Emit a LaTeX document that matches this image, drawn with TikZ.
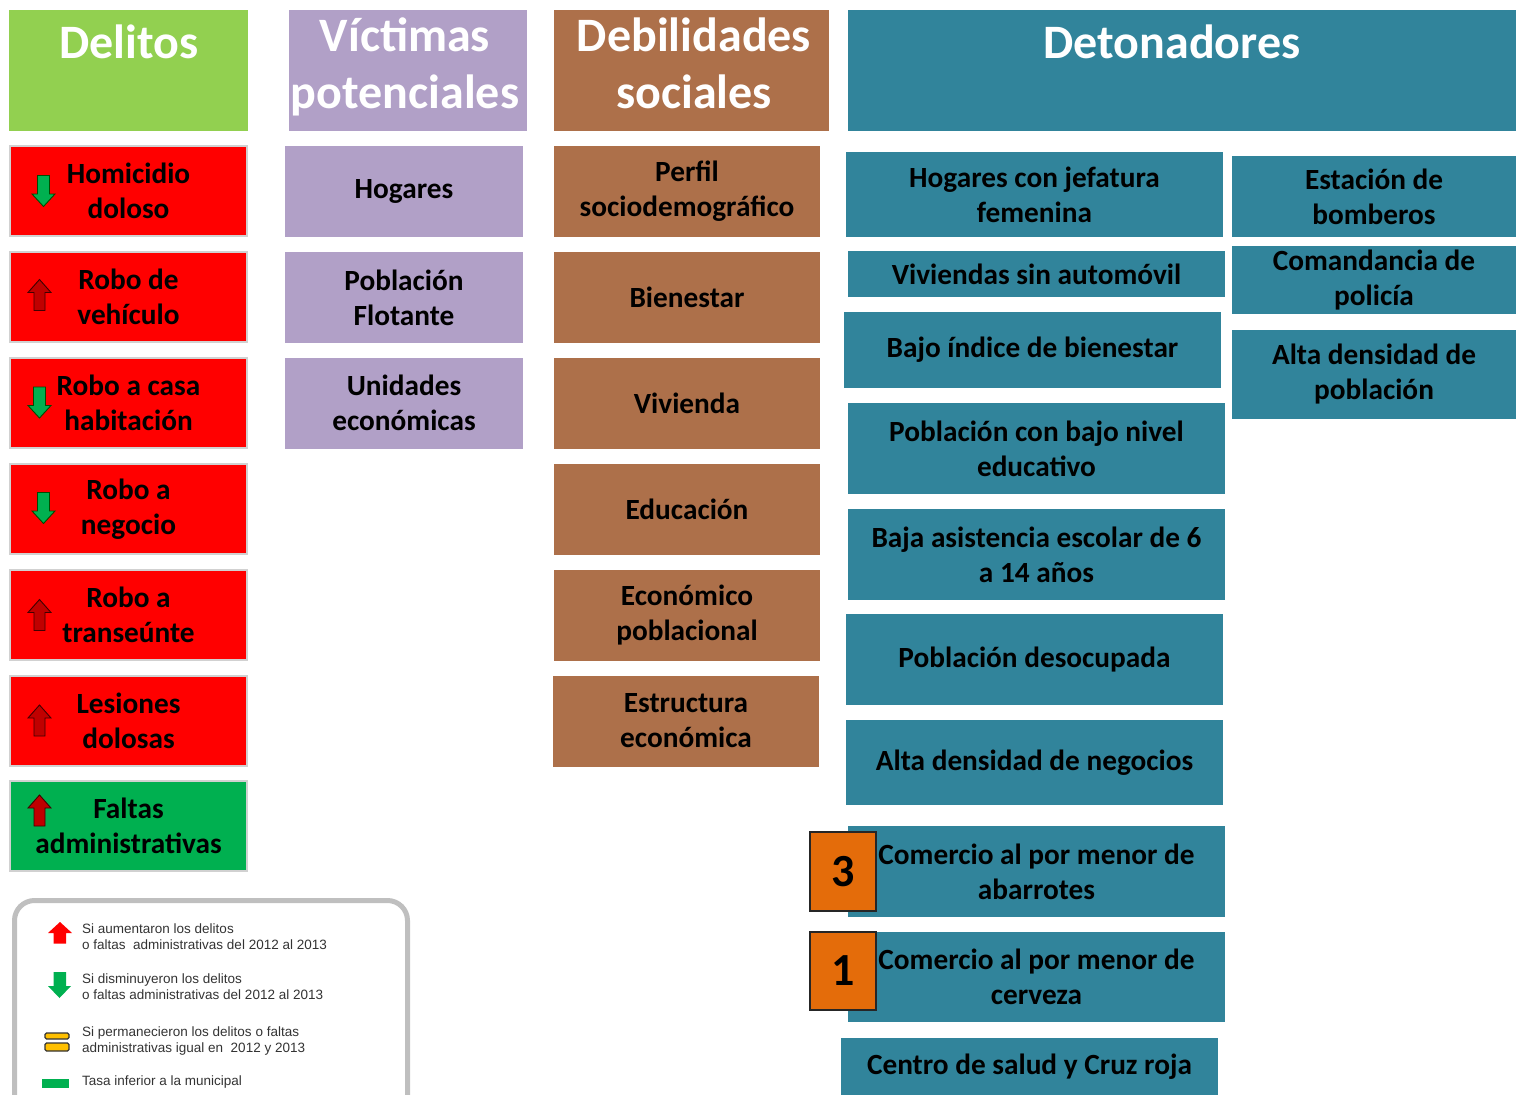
\documentclass[tikz,border=0pt]{standalone}
\usepackage{fontspec}
\setmainfont{Carlito}
\newfontfamily\leyendafont{Liberation Sans}
\definecolor{rojoDel}{HTML}{FF0000}
\definecolor{verdeDel}{HTML}{00B050}
\definecolor{verdeTit}{HTML}{92D050}
\definecolor{lila}{HTML}{B1A0C7}
\definecolor{cafe}{HTML}{AD704A}
\definecolor{azulDet}{HTML}{31849B}
\definecolor{naranja}{HTML}{E46C0A}
\definecolor{guinda}{HTML}{C00000}
\definecolor{oro}{HTML}{FFC000}
\definecolor{grisLey}{HTML}{BFBFBF}
\newcommand\cuerpo{\bfseries\fontsize{29.3}{35}\selectfont}
\newcommand\titulo{\bfseries\fontsize{48}{57}\selectfont}
\tikzset{
  caja/.style={rectangle, inner sep=0pt, align=center, font=\cuerpo},
  tam/.style 2 args={minimum width=#1, minimum height=#2},
  encabezado/.style={rectangle, inner sep=0pt},
  titulotxt/.style={inner sep=0pt, align=center, font=\titulo, text=white},
  delito/.style={caja, tam={237}{90}, draw=black!18, line width=1.2},
  victima/.style={caja, fill=lila, tam={238}{91}},
  debilidad/.style={caja, fill=cafe, tam={266}{91}},
  detonador/.style={caja, fill=azulDet, tam={377}{#1}},
  numero/.style={rectangle, inner sep=0pt, fill=naranja, draw=black!85, line width=2,
    tam={66}{#1}, font=\bfseries\fontsize{46}{50}\selectfont},
  leyendatxt/.style={inner sep=0pt, align=left, anchor=north west,
    font=\leyendafont\fontsize{13.5}{16}\selectfont, text=black!80},
  flecha sube/.pic={
    \draw[fill=guinda, draw=black!75!red, line width=0.9]
      (0,-15.5) -- (11.5,-2.5) -- (5.5,-2.5) -- (5.5,15.5) -- (-5.5,15.5)
      -- (-5.5,-2.5) -- (-11.5,-2.5) -- cycle;
  },
  flecha baja/.pic={
    \draw[fill=verdeDel, draw=black!70!green, line width=0.9]
      (0,15.5) -- (11.5,3) -- (6,3) -- (6,-15.5) -- (-6,-15.5)
      -- (-6,3) -- (-11.5,3) -- cycle;
  }
}
\begin{document}
\begin{tikzpicture}[x=1pt,y=-1pt]
\useasboundingbox (0,0) rectangle (1516,1095);
\clip (0,0) rectangle (1516,1095);
% encabezados
\node[encabezado, fill=verdeTit, tam={239}{121}] (hdel) at (128.5,70.5) {};
\node[encabezado, fill=lila, tam={238}{121}] (hvic) at (408,70.5) {};
\node[encabezado, fill=cafe, tam={275}{121}] (hdeb) at (691.5,70.5) {};
\node[encabezado, fill=azulDet, tam={668}{121}] (hdet) at (1182,70.5) {};
\node[titulotxt] (tdel) at (129,42) {Delitos};
\node[titulotxt] (tvic) at (405,66.5) {Víctimas\\potenciales};
\node[titulotxt] (tdeb) at (694,63) {Debilidades\\sociales};
\node[titulotxt] (tdet) at (1172,42) {Detonadores};
% delitos con su flecha
\foreach \yc/\col/\txt/\fl/\fx/\fy [count=\i] in {
  191/rojoDel/{Homicidio\\doloso}/baja/43.5/191,
  297/rojoDel/{Robo de\\vehículo}/sube/39.5/295,
  403/rojoDel/{Robo a casa\\habitación}/baja/39.5/402.5,
  509/rojoDel/{Robo a\\negocio}/baja/43.5/508,
  615/rojoDel/{Robo a\\transeúnte}/sube/39.5/615,
  721/rojoDel/{Lesiones\\dolosas}/sube/39.5/720.5,
  826/verdeDel/{Faltas\\administrativas}/sube/39.5/810.5}{
  \node[delito, fill=\col] (del\i) at (128.5,\yc) {\txt};
  \pic at (\fx,\fy) {flecha \fl};
}
% victimas potenciales
\node[victima] (vhog) at (404,191.5) {Hogares};
\node[victima] (vflo) at (404,297.5) {Población\\Flotante};
\node[victima] (vuni) at (404,403) {Unidades\\económicas};
% debilidades sociales
\node[debilidad] (dper) at (687,191.5) {Perfil\\sociodemográfico};
\node[debilidad] (dbie) at (687,297.5) {Bienestar};
\node[debilidad] (dviv) at (687,403) {Vivienda};
\node[debilidad] (dedu) at (687,509) {Educación};
\node[debilidad] (deco) at (687,615) {Económico\\poblacional};
\node[debilidad] (dest) at (686,721) {Estructura\\económica};
% detonadores
\node[detonador=85] (hog) at (1034.5,194.5) {Hogares con jefatura\\femenina};
\node[detonador=46] (viv) at (1036.5,274) {Viviendas sin automóvil};
\node[detonador=76] (bie) at (1032.5,350) {Bajo índice de bienestar};
\node[detonador=91] (edu) at (1036.5,448.5) {Población con bajo nivel\\educativo};
\node[detonador=91] (esc) at (1036.5,554.5) {Baja asistencia escolar de 6\\a 14 años};
\node[detonador=91] (des) at (1034.5,659.5) {Población desocupada};
\node[detonador=85] (neg) at (1034.5,762.5) {Alta densidad de negocios};
\node[detonador=91] (aba) at (1036.5,871.5) {Comercio al por menor de\\abarrotes};
\node[detonador=90] (cer) at (1036.5,977) {Comercio al por menor de\\cerveza};
\node[detonador=57] (sal) at (1029.5,1066.5) {Centro de salud y Cruz roja};
\node[caja, fill=azulDet, tam={284}{81}] (bom) at (1374,196.5) {Estación de\\bomberos};
\node[caja, fill=azulDet, tam={284}{68}] (pol) at (1374,280) {Comandancia de\\policía};
\node[caja, fill=azulDet, tam={284}{89}] (den) at (1374,374.5) {Alta densidad de\\población};
\node[numero=79] (n3) at (843,871.5) {3};
\node[numero=78] (n1) at (843,971) {1};
% leyenda
\draw[line width=5, draw=grisLey, rounded corners=20]
  (14.5,1140) -- (14.5,900.5) -- (407.5,900.5) -- (407.5,1140);
\fill[rojoDel] (60,922) -- (72,933) -- (66,933) -- (66,943.5) -- (53.5,943.5)
  -- (53.5,933) -- (48,933) -- cycle;
\fill[verdeDel] (59.5,998) -- (71,986) -- (66,986) -- (66,972) -- (53.5,972)
  -- (53.5,986) -- (48,986) -- cycle;
\draw[fill=oro, draw=black!80, line width=1.2, rounded corners=1.5]
  (45,1033) rectangle (69,1039);
\draw[fill=oro, draw=black!80, line width=1.2, rounded corners=1.5]
  (45,1043) rectangle (69,1051);
\fill[verdeDel] (42,1079) rectangle (69,1088);
\node[leyendatxt] (l1) at (82,924) {Si aumentaron los delitos\\o faltas \ administrativas del 2012 al 2013};
\node[leyendatxt] (l2) at (82,974) {Si disminuyeron los delitos\\o faltas administrativas del 2012 al 2013};
\node[leyendatxt] (l3) at (82,1027) {Si permanecieron los delitos o faltas\\administrativas igual en \ 2012 y 2013};
\node[leyendatxt] (l4) at (82,1076) {Tasa inferior a la municipal};
\end{tikzpicture}
\end{document}
